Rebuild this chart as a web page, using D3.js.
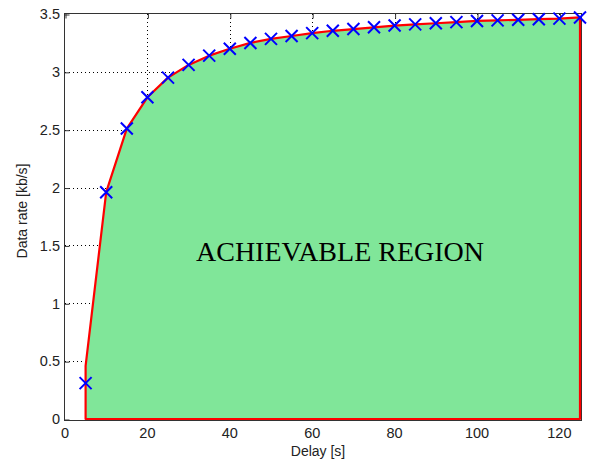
<!DOCTYPE html>
<html>
<head>
<meta charset="utf-8">
<script src="https://cdn.jsdelivr.net/npm/d3@7"></script>
<style>
  html, body { margin: 0; padding: 0; background: #fff; }
  svg { display: block; }
</style>
</head>
<body>
<div id="viz"></div>
<script>
// data
const delays = [5, 10, 15, 20, 25, 30, 35, 40, 45, 50, 55, 60, 65, 70, 75, 80, 85, 90, 95, 100, 105, 110, 115, 120, 125];
const rates = [0.31, 1.96, 2.51, 2.78, 2.95, 3.06, 3.14, 3.20, 3.25, 3.285, 3.31, 3.335, 3.355, 3.37, 3.385, 3.40, 3.41, 3.42, 3.43, 3.44, 3.445, 3.45, 3.455, 3.46, 3.47];
// boundary of the achievable region (red curve)
const boundaryRates = [0.46, 1.96, 2.51, 2.78, 2.95, 3.06, 3.14, 3.20, 3.25, 3.285, 3.31, 3.335, 3.355, 3.37, 3.385, 3.40, 3.41, 3.42, 3.43, 3.44, 3.445, 3.45, 3.455, 3.46, 3.47];
const xTicks = [0, 20, 40, 60, 80, 100, 120];
const yTicks = [0, 0.5, 1, 1.5, 2, 2.5, 3, 3.5];

const width = 591, height = 464;
const x = d3.scaleLinear().domain([0, 125]).range([65, 580]);
const y = d3.scaleLinear().domain([0, 3.5]).range([419, 14]);

const svg = d3.select('#viz').append('svg')
  .attr('width', width)
  .attr('height', height)
  .style('font-family', '"Liberation Sans", Arial, sans-serif');

// grid (under the fill)
const grid = svg.append('g')
  .attr('stroke', '#000')
  .attr('stroke-width', 1)
  .attr('stroke-dasharray', '1,3');
grid.selectAll('line.gx')
  .data(xTicks.filter(d => d > 0))
  .join('line')
    .attr('x1', d => Math.round(x(d)) + 0.5)
    .attr('x2', d => Math.round(x(d)) + 0.5)
    .attr('y1', y(0))
    .attr('y2', y(3.5));
grid.selectAll('line.gy')
  .data(yTicks.filter(d => d > 0 && d < 3.5))
  .join('line')
    .attr('y1', d => Math.round(y(d)) + 0.5)
    .attr('y2', d => Math.round(y(d)) + 0.5)
    .attr('x1', x(0))
    .attr('x2', x(125));

// axes: ticks pointing inwards, box round the plot
const axisCol = '#333';
const xAxisTop = d3.axisBottom(x).tickValues(xTicks).tickSize(5).tickFormat('');
svg.append('g')
  .attr('transform', 'translate(0.5,13.5)')
  .call(xAxisTop)
  .call(g => g.select('.domain').remove())
  .selectAll('line').attr('stroke', axisCol);

const yAxisLeft = d3.axisRight(y).tickValues(yTicks).tickSize(5).tickFormat('');
svg.append('g')
  .attr('transform', 'translate(64.5,0.5)')
  .call(yAxisLeft)
  .call(g => g.select('.domain').remove())
  .selectAll('line').attr('stroke', axisCol);

svg.append('rect')
  .attr('x', 64.5).attr('y', 13.5)
  .attr('width', 517).attr('height', 407)
  .attr('fill', 'none')
  .attr('stroke', axisCol)
  .attr('stroke-width', 1);

// tick labels
svg.append('g').selectAll('text')
  .data(xTicks)
  .join('text')
    .attr('x', d => x(d))
    .attr('y', 438)
    .attr('text-anchor', 'middle')
    .attr('font-size', 14.5)
    .attr('fill', '#222')
    .text(d => d);

svg.append('g').selectAll('text')
  .data(yTicks)
  .join('text')
    .attr('x', 60)
    .attr('y', d => y(d))
    .attr('dy', '0.36em')
    .attr('text-anchor', 'end')
    .attr('font-size', 14.5)
    .attr('fill', '#222')
    .text(d => d);

// axis labels
svg.append('text')
  .attr('x', 318).attr('y', 456)
  .attr('text-anchor', 'middle')
  .attr('font-size', 14)
  .attr('fill', '#222')
  .text('Delay [s]');

svg.append('text')
  .attr('transform', 'translate(27,211) rotate(-90)')
  .attr('text-anchor', 'middle')
  .attr('font-size', 14)
  .attr('fill', '#222')
  .text('Data rate [kb/s]');

// achievable region: closed polygon, green fill with red edge
const region = [[delays[0], 0]]
  .concat(delays.map((d, i) => [d, boundaryRates[i]]))
  .concat([[delays[delays.length - 1], 0]]);

svg.append('path')
  .datum(region)
  .attr('d', d3.line().x(d => x(d[0])).y(d => y(d[1])).curve(d3.curveLinearClosed))
  .attr('fill', '#80e699')
  .attr('stroke', '#ff0000')
  .attr('stroke-width', 2.2)
  .attr('stroke-linejoin', 'round');

// cross markers
const m = 6;
svg.append('g').selectAll('path')
  .data(delays.map((d, i) => [d, rates[i]]))
  .join('path')
    .attr('d', d => {
      const cx = x(d[0]), cy = y(d[1]);
      return `M${cx - m},${cy - m}L${cx + m},${cy + m}M${cx - m},${cy + m}L${cx + m},${cy - m}`;
    })
    .attr('stroke', '#0000ff')
    .attr('stroke-width', 2)
    .attr('fill', 'none');

svg.append('text')
  .attr('x', 340).attr('y', 261)
  .attr('text-anchor', 'middle')
  .attr('font-family', '"Liberation Serif", "Times New Roman", serif')
  .attr('font-size', 28)
  .attr('fill', '#000')
  .text('ACHIEVABLE REGION');
</script>
</body>
</html>
